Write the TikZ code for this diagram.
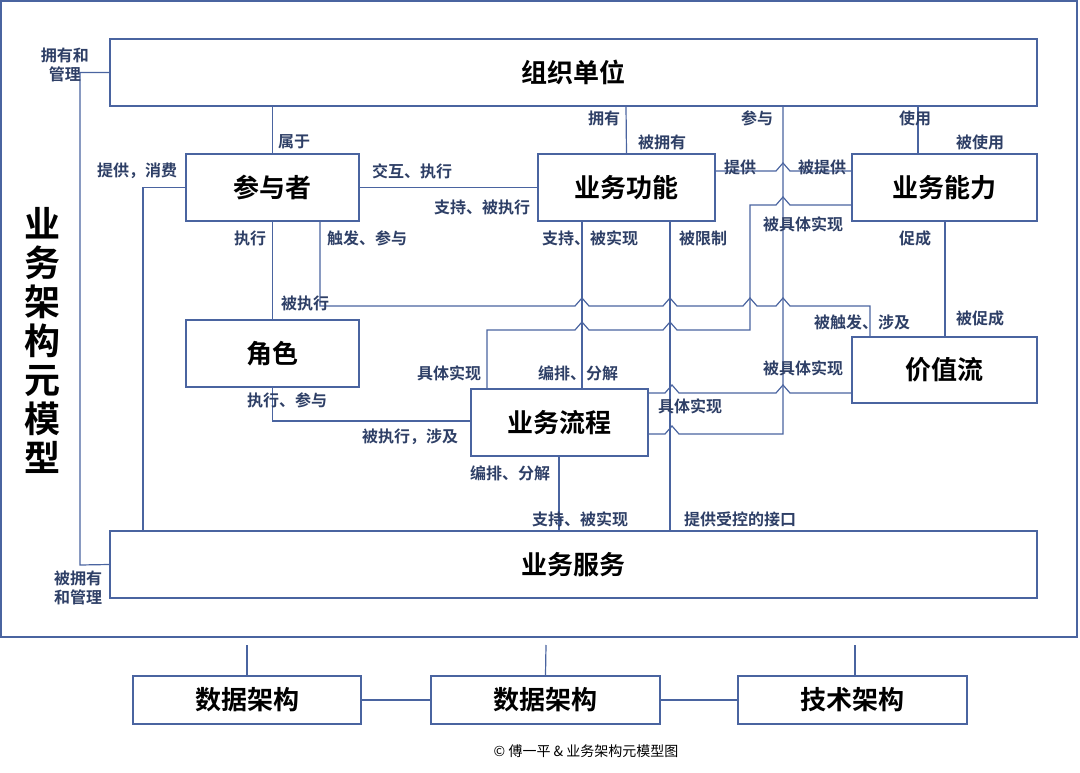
\documentclass[tikz,border=0pt]{standalone}
\usepackage{fontspec}
\setmainfont{Noto Sans CJK SC}[BoldFont={Noto Sans CJK SC Bold}]
\definecolor{ln}{HTML}{4A64A0}
\definecolor{lb}{HTML}{2E3F66}
\begin{document}
\begin{tikzpicture}[x=1pt,y=-1pt,
  box/.style={draw=ln,line width=1.6pt,fill=white,inner sep=0pt,font=\bfseries\fontsize{26}{26}\selectfont},
  lk/.style={draw=ln,line width=1.2pt},
  lab/.style={text=lb,font=\bfseries\fontsize{16}{19}\selectfont,inner sep=0pt,align=center}]
\useasboundingbox (0,0) rectangle (1080,773);
\draw[ln,line width=1.6pt] (1,1) rectangle (1077,637);
% boxes
\node[box,minimum width=927pt,minimum height=67pt] (org) at (573.5,72.5) {组织单位};
\node[box,minimum width=173pt,minimum height=67pt] (par) at (272.5,187.5) {参与者};
\node[box,minimum width=177pt,minimum height=67pt] (fun) at (626.5,187.5) {业务功能};
\node[box,minimum width=185pt,minimum height=67pt] (cap) at (944.5,187.5) {业务能力};
\node[box,minimum width=173pt,minimum height=67pt] (role) at (272.5,353.5) {角色};
\node[box,minimum width=185pt,minimum height=66pt] (vs) at (944.5,370) {价值流};
\node[box,minimum width=177pt,minimum height=67pt] (proc) at (559.5,422.5) {业务流程};
\node[box,minimum width=927pt,minimum height=67pt] (svc) at (573.5,564.5) {业务服务};
\node[box,minimum width=228pt,minimum height=48pt] (d1) at (247,700) {数据架构};
\node[box,minimum width=229pt,minimum height=48pt] (d2) at (545.5,700) {数据架构};
\node[box,minimum width=229pt,minimum height=48pt] (t1) at (852.5,700) {技术架构};
\node[font=\bfseries\fontsize{36}{39}\selectfont,align=center,inner sep=0pt] (title) at (42,340) {业\\务\\架\\构\\元\\模\\型};
\node[font=\fontsize{14}{16}\selectfont,inner sep=0pt] (cap2) at (586,751) {© 傅一平 \& 业务架构元模型图};
% connectors
\draw[lk] (org.west) -- (80,72.5) -- (80,565) -- (svc.west);
\draw[lk] (org.south -| par.north) -- (par.north);
\draw[lk] (par.west) -- (143,187.5) -- (143,531);
\draw[lk] (par.east) -- (fun.west);
\draw[lk] (par.south) -- (role.north);
\draw[lk] (320,221) -- (320,306) -- (575,306) -- (582,298) -- (589,306) -- (663,306) -- (670,298) -- (677,306) -- (743,306) -- (750,298) -- (757,306) -- (776,306) -- (783,298) -- (790,306) -- (870,306) -- (870,337);
\draw[lk] (role.south) -- (272.5,421) -- (proc.west |- 0,421);
\draw[lk] (626,106) -- (fun.north);
\draw[lk] (783,106) -- (783,434) -- (679,434) -- (672,426) -- (665,434) -- (648,434);
\draw[lk] (648,393) -- (665,393) -- (672,385) -- (679,393) -- (776,393) -- (783,385) -- (790,393) -- (852,393);
\draw[lk] (715,171) -- (776,171) -- (783,163) -- (790,171) -- (852,171);
\draw[lk] (852,205) -- (790,205) -- (783,197) -- (776,205) -- (750,205) -- (750,330) -- (677,330) -- (670,322) -- (663,330) -- (589,330) -- (582,322) -- (575,330) -- (487,330) -- (487,389);
\draw[lk] (582,221) -- (582,389);
\draw[lk] (670,221) -- (670,531);
\draw[lk] (945,221) -- (945,337);
\draw[lk] (918,106) -- (918,154);
\draw[lk] (559,456) -- (559,531);
\draw[lk] (247,645) -- (d1.north);
\draw[lk] (546,645) -- (d2.north);
\draw[lk] (855,645) -- (855,676);
\draw[lk] (d1.east) -- (d2.west);
\draw[lk] (d2.east) -- (t1.west);
% labels
\node[lab] at (65,65) {拥有和\\管理};
\node[lab] at (78,588) {被拥有\\和管理};
\node[lab] at (294,142) {属于};
\node[lab] at (137,171) {提供，消费};
\node[lab] at (412,171) {交互、执行};
\node[lab] at (482,207) {支持、被执行};
\node[lab] at (250,238) {执行};
\node[lab] at (367,238) {触发、参与};
\node[lab] at (305,303) {被执行};
\node[lab] at (287,400) {执行、参与};
\node[lab] at (410,437) {被执行，涉及};
\node[lab] at (604,118) {拥有};
\node[lab] at (662,142) {被拥有};
\node[lab] at (757,118) {参与};
\node[lab] at (915,118) {使用};
\node[lab] at (980,142) {被使用};
\node[lab] at (740,167) {提供};
\node[lab] at (822,167) {被提供};
\node[lab] at (803,224) {被具体实现};
\node[lab] at (590,238) {支持、被实现};
\node[lab] at (703,238) {被限制};
\node[lab] at (915,238) {促成};
\node[lab] at (862,322) {被触发、涉及};
\node[lab] at (980,318) {被促成};
\node[lab] at (449,373) {具体实现};
\node[lab] at (578,373) {编排、分解};
\node[lab] at (803,368) {被具体实现};
\node[lab] at (690,406) {具体实现};
\node[lab] at (510,473) {编排、分解};
\node[lab] at (580,519) {支持、被实现};
\node[lab] at (740,519) {提供受控的接口};
\end{tikzpicture}
\end{document}
